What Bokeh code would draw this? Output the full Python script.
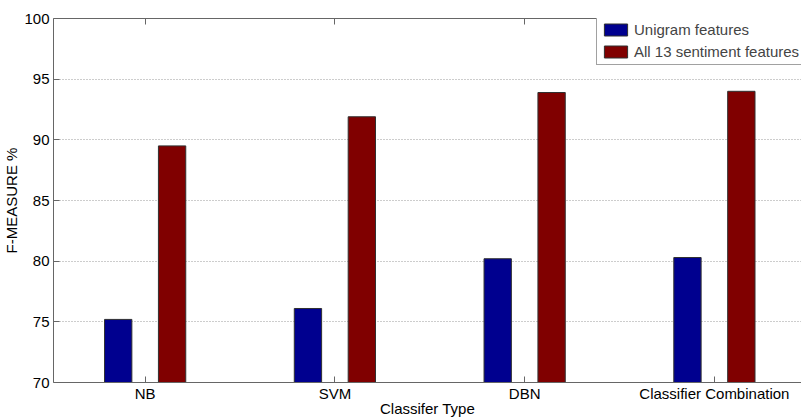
from bokeh.plotting import figure
from bokeh.models import Range1d, FixedTicker, LinearAxis, Legend, LegendItem, ColumnDataSource
from bokeh.transform import dodge
from bokeh.embed import file_html
from bokeh.resources import INLINE

categories = ["NB", "SVM", "DBN", "Classifier Combination"]
unigram = [75.2, 76.1, 80.2, 80.3]
sentiment = [89.5, 91.9, 93.9, 94.0]
y_ticks = [70, 75, 80, 85, 90, 95, 100]

pos = list(range(1, len(categories) + 1))
src = ColumnDataSource(dict(x=pos, uni=unigram, sen=sentiment))

FONT = "Liberation Sans"
AX = "#666666"

p = figure(width=801, height=419, output_backend="svg", toolbar_location=None,
           x_range=Range1d(0.517, 4.459), y_range=Range1d(70, 100),
           min_border_left=53, min_border_right=0, min_border_top=18, min_border_bottom=36)
p.outline_line_color = None
p.background_fill_color = "white"
p.border_fill_color = "white"

r1 = p.vbar(x=dodge("x", -0.142, range=p.x_range), top="uni", bottom=70, width=0.144,
            source=src, fill_color="#00008F", line_color="#303030", line_width=1)
r2 = p.vbar(x=dodge("x", 0.142, range=p.x_range), top="sen", bottom=70, width=0.144,
            source=src, fill_color="#800000", line_color="#303030", line_width=1)

# axes
xa = p.xaxis[0]
xa.ticker = FixedTicker(ticks=pos)
xa.major_label_overrides = {i + 1: c for i, c in enumerate(categories)}
xa.axis_label = "Classifer Type"
ya = p.yaxis[0]
ya.ticker = FixedTicker(ticks=y_ticks)
ya.axis_label = "F-MEASURE %"
for a in (xa, ya):
    a.axis_line_color = AX
    a.major_tick_line_color = AX
    a.major_tick_in = 6
    a.major_tick_out = 0
    a.minor_tick_line_color = None
    a.major_label_text_font = FONT
    a.major_label_text_font_size = "15px"
    a.major_label_text_color = "black"
    a.axis_label_text_font = FONT
    a.axis_label_text_font_size = "15px"
    a.axis_label_text_font_style = "normal"
    a.axis_label_text_color = "black"
    a.major_label_standoff = 4
    a.axis_label_standoff = 1
xa.major_label_standoff = 2
xa.axis_label_standoff = -5

top = LinearAxis(ticker=FixedTicker(ticks=pos), axis_line_color=AX, major_tick_line_color=AX,
                 major_tick_in=6, major_tick_out=0, minor_tick_line_color=None,
                 major_label_overrides={i: "" for i in pos}, major_label_standoff=0)
p.add_layout(top, "above")

p.xgrid.grid_line_color = None
p.ygrid.ticker = FixedTicker(ticks=y_ticks)
p.ygrid.grid_line_color = "#9a9a9a"
p.ygrid.grid_line_dash = "1 2"

legend = Legend(items=[LegendItem(label="Unigram features", renderers=[r1]),
                       LegendItem(label="All 13 sentiment features", renderers=[r2])],
                location=(543, 317), glyph_width=29, glyph_height=15, label_standoff=4,
                spacing=5, padding=4, margin=0, label_text_font=FONT,
                label_text_font_size="15px", label_height=15,
                border_line_color="#444444", background_fill_alpha=1)
p.add_layout(legend, "center")

open("out.html", "w").write(file_html(p, INLINE))
